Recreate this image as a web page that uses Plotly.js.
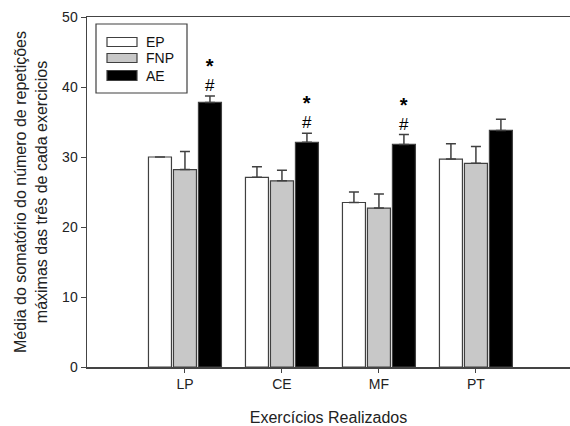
<!DOCTYPE html>
<html>
<head>
<meta charset="utf-8">
<script src="https://cdn.plot.ly/plotly-3.0.1.min.js"></script>
<style>html,body{margin:0;padding:0;background:#fff;}#chart{width:570px;height:426px;}</style>
</head>
<body>
<div id="chart"></div>
<script>
const categories = ['LP', 'CE', 'MF', 'PT'];
const seriesNames = ['EP', 'FNP', 'AE'];
const epValues = [30.0, 27.1, 23.5, 29.7];
const epErr = [0, 1.5, 1.5, 2.2];
const fnpValues = [28.2, 26.6, 22.7, 29.1];
const fnpErr = [2.6, 1.5, 2.0, 2.4];
const aeValues = [37.8, 32.1, 31.8, 33.8];
const aeErr = [0.9, 1.3, 1.4, 1.6];
const aeMarks = ['*', '*', '*', ''];
const aeMarks2 = ['#', '#', '#', ''];
const yTicks = [0, 10, 20, 30, 40, 50];

const fills = ['#ffffff', '#c8c8c8', '#000000'];
const vals = [epValues, fnpValues, aeValues];
const errs = [epErr, fnpErr, aeErr];

const traces = seriesNames.map((name, i) => ({
  type: 'bar',
  name: name,
  x: categories,
  y: vals[i],
  marker: {color: fills[i], line: {color: '#404040', width: 1.2}},
  error_y: {type: 'data', symmetric: false, array: errs[i],
            arrayminus: errs[i].map(() => 0),
            visible: true, color: '#404040', thickness: 1.5, width: 5},
  showlegend: false,
  hoverinfo: 'skip'
}));

// legend drawn as shapes (paper coords)
const plotL = 87, plotR = 570, plotT = 17, plotB = 367;
const px = v => (v - plotL) / (plotR - plotL);
const py = v => (plotB - v) / (plotB - plotT);
const shapes = [{
  type: 'rect', xref: 'paper', yref: 'paper',
  x0: px(96), x1: px(187), y0: py(93), y1: py(24),
  line: {color: '#404040', width: 1.2}, fillcolor: 'rgba(0,0,0,0)'
}];
const annotations = [];
const swY = [[37.5, 46.5], [53.5, 62.5], [70.5, 80.5]];
seriesNames.forEach((name, i) => {
  shapes.push({type: 'rect', xref: 'paper', yref: 'paper',
    x0: px(107), x1: px(137), y0: py(swY[i][1]), y1: py(swY[i][0]),
    line: {color: '#404040', width: 1.2}, fillcolor: fills[i]});
  annotations.push({xref: 'paper', yref: 'paper', x: px(144),
    y: py((swY[i][0] + swY[i][1]) / 2), text: name, showarrow: false,
    xanchor: 'left', yanchor: 'middle',
    font: {family: 'Liberation Sans, Arial, sans-serif', size: 14, color: '#111'}});
});

// significance marks above AE bars
categories.forEach((c, i) => {
  if (!aeMarks[i]) return;
  const top = aeValues[i] + aeErr[i];
  const txt = '<span style="font-size:20px"><b>' + aeMarks[i] + '</b></span><br>' +
              '<span style="font-size:17px">' + aeMarks2[i] + '</span>';
  annotations.push({xref: 'x', yref: 'y', x: i + 0.263, y: top, text: txt,
    showarrow: false, yanchor: 'bottom', yshift: 0, borderpad: 0,
    font: {family: 'Liberation Sans, Arial, sans-serif', size: 14, color: '#000'}});
});

const layout = {
  width: 570, height: 426,
  margin: {l: plotL, r: 570 - plotR, t: plotT, b: 426 - plotB, pad: 0},
  paper_bgcolor: '#fff', plot_bgcolor: '#fff',
  font: {family: 'Liberation Sans, Arial, sans-serif', color: '#222'},
  barmode: 'group', bargap: 0.227, bargroupgap: 0.08,
  xaxis: {
    type: 'category', range: [-1.01, 3.97],
    showline: true, linecolor: '#444', linewidth: 1.5, mirror: true,
    ticks: 'outside', ticklen: 4, tickcolor: '#444', tickwidth: 1,
    showgrid: false, zeroline: false,
    tickfont: {size: 14, color: '#222'},
    title: {text: 'Exercícios Realizados', font: {size: 16, color: '#222'}, standoff: 20}
  },
  yaxis: {
    range: [0, 50], tickvals: yTicks,
    showline: true, linecolor: '#444', linewidth: 1.5,
    ticks: 'outside', ticklen: 5, tickcolor: '#444', tickwidth: 1,
    showgrid: false, zeroline: false,
    tickfont: {size: 14, color: '#222'},
    title: {text: 'Média do somatório do número de repetições<br>máximas das três de cada exercicios',
            font: {size: 16, color: '#222'}, standoff: 10}
  },
  shapes: shapes,
  annotations: annotations
};

Plotly.newPlot('chart', traces, layout, {staticPlot: true, displayModeBar: false});
</script>
</body>
</html>
